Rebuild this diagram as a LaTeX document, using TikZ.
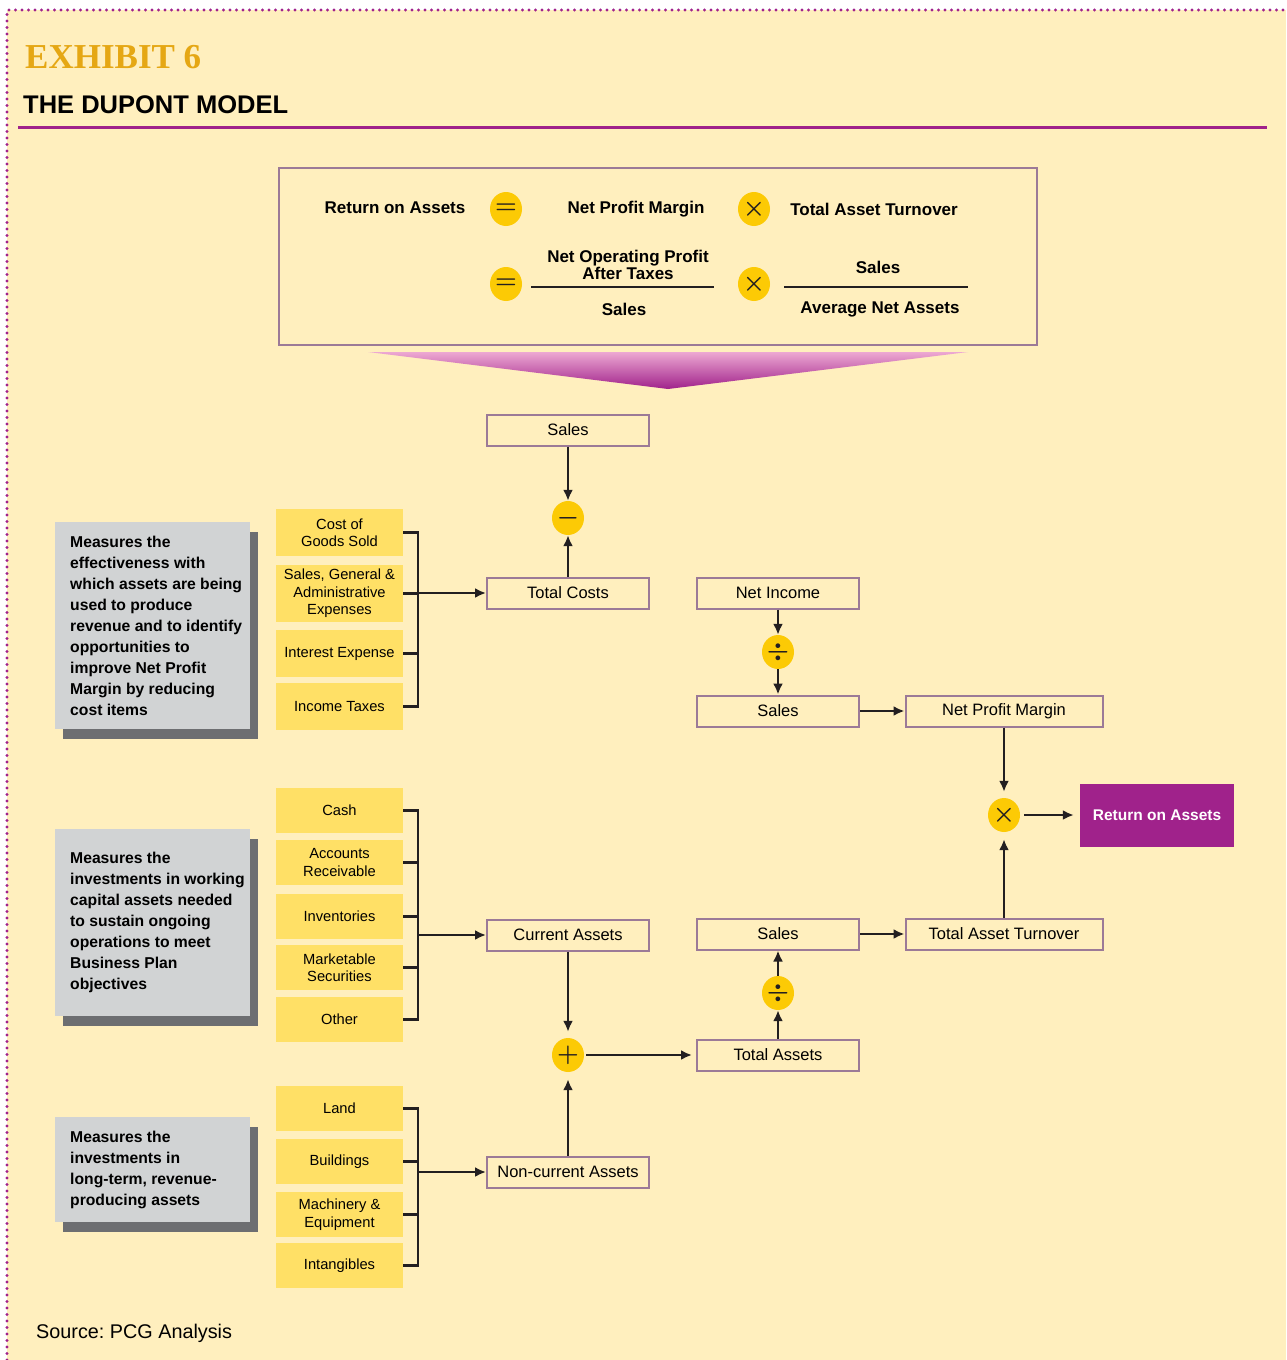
\documentclass[tikz,border=0pt]{standalone}
\usepackage{fontspec}
\setmainfont{Liberation Sans}
\newfontfamily\exhibitfont{Liberation Serif}
\usetikzlibrary{arrows.meta,calc,positioning,shapes.geometric,shadows}

\definecolor{cream}{HTML}{FFEFBE}
\definecolor{itemyellow}{HTML}{FFE066}
\definecolor{opyellow}{HTML}{FCCA05}
\definecolor{boxline}{HTML}{9C7A97}
\definecolor{dupurple}{HTML}{A0228B}
\definecolor{funneltop}{HTML}{EDA8D2}
\definecolor{notegrey}{HTML}{D1D3D4}
\definecolor{shadowgrey}{HTML}{6D6E71}
\definecolor{exgold}{HTML}{E5A714}
\definecolor{ink}{HTML}{231F20}

\tikzset{
  flowbox/.style={draw=boxline, line width=2pt, fill=cream, minimum width=162pt, minimum height=31pt, inner sep=0pt, font=\fontsize{16.5}{19}\selectfont},
  widebox/.style={flowbox, minimum width=197pt},
  roabox/.style={fill=dupurple, text=white, minimum width=154pt, minimum height=63pt, inner sep=0pt, font=\bfseries\fontsize{15.5}{18}\selectfont},
  item/.style={fill=itemyellow, minimum width=127pt, minimum height=45pt, inner sep=0pt, align=center, font=\fontsize{14.7}{17.5}\selectfont},
  op/.style={ellipse, fill=opyellow, minimum width=32pt, minimum height=34pt, inner sep=0pt, text=ink, font=\boldmath\fontsize{25}{25}\selectfont},
  link/.style={draw=ink, line width=2.3pt},
  arr/.style={link, -{Latex[length=11pt,width=10pt]}},
  notebox/.style={fill=notegrey, anchor=north west, minimum width=195pt, inner sep=0pt,
    drop shadow={shadow xshift=8pt, shadow yshift=-10pt, fill=shadowgrey, opacity=1}},
  notetext/.style={anchor=west, align=left, inner sep=0pt, font=\bfseries\fontsize{15.7}{21}\selectfont},
  formula/.style={inner sep=0pt, align=center, font=\bfseries\fontsize{17}{17}\selectfont},
}

\begin{document}
\frenchspacing
\begin{tikzpicture}[x=1pt,y=-1pt]
\useasboundingbox (0,0) rectangle (1286,1360);
\fill[white] (0,0) rectangle (1286,1360);
\fill[cream] (7,10) rectangle (1286,1360);
\draw[dupurple, line width=3.2pt, line cap=round, dash pattern=on 0pt off 6.5pt] (7,1360) -- (7,10) -- (1286,10);

% Title
\node[anchor=base west, inner sep=0pt, text=exgold, font=\exhibitfont\bfseries\fontsize{35}{35}\selectfont] (exhibit) at (25,68) {EXHIBIT 6};
\node[anchor=base west, inner sep=0pt, font=\bfseries\fontsize{25.5}{26}\selectfont] (title) at (23,113) {THE DUPONT MODEL};
\draw[dupurple, line width=3pt] (18,127) -- (1267,127);

% Formula
\node[draw=boxline, line width=2pt, fill=cream, anchor=north west, minimum width=758pt, minimum height=177pt] (formbox) at (278,167) {};
\node[formula] (f-roa) at (395,208) {Return on Assets};
\node[op] (f-eq1) at (506,209) {$=$};
\node[formula] (f-npm) at (636,209) {Net Profit Margin};
\node[op] (f-x1) at (754,209) {$\times$};
\node[formula] (f-tat) at (874,209) {Total Asset Turnover};
\node[op] (f-eq2) at (506,284) {$=$};
\node[formula] (f-nopat) at (628,265) {Net Operating Profit\\After Taxes};
\node[formula] (f-sales1) at (624,309) {Sales};
\node[op] (f-x2) at (754,284) {$\times$};
\node[formula] (f-sales2) at (878,267) {Sales};
\node[formula] (f-avg) at (880,309) {Average Net Assets};
\draw[link] (531,287) -- (714,287);
\draw[link] (784,287) -- (968,287);
\shade[top color=funneltop, bottom color=dupurple] (368,352) -- (968,352) -- (668,389) -- cycle;

% Flow
\node[flowbox] (sales1) at (568,430) {Sales};
\node[op] (minus) at (568,518) {$-$};
\node[flowbox] (tcost) at (568,593) {Total Costs};
\node[flowbox] (nincome) at (778,593) {Net Income};
\node[op] (div1) at (778,652) {$\div$};
\node[flowbox] (sales2) at (778,711) {Sales};
\node[widebox] (npm) at (1004,711) {Net Profit Margin};
\node[op] (times) at (1004,815) {$\times$};
\node[roabox] (roa) at (1157,815) {Return on Assets};
\node[flowbox] (cassets) at (568,935) {Current Assets};
\node[flowbox] (sales3) at (778,934) {Sales};
\node[widebox] (tat) at (1004,934) {Total Asset Turnover};
\node[op] (div2) at (778,993) {$\div$};
\node[op] (plus) at (568,1055) {$+$};
\node[flowbox] (tassets) at (778,1055) {Total Assets};
\node[flowbox] (ncassets) at (568,1172) {Non-current Assets};

\draw[arr] (sales1) -- (minus);
\draw[arr] (tcost) -- (minus);
\draw[arr] (nincome) -- (div1);
\draw[arr] (div1) -- (sales2);
\draw[arr] (sales2) -- (npm);
\draw[arr, shorten >=6pt] (npm) -- (times);
\draw[arr, shorten >=7pt] (tat) -- (times);
\draw[arr, shorten <=4pt, shorten >=6pt] (times) -- (roa);
\draw[arr, shorten >=6pt] (cassets) -- (plus);
\draw[arr, shorten >=7pt] (ncassets) -- (plus);
\draw[arr, shorten <=2pt, shorten >=4pt] (plus) -- (tassets);
\draw[arr] (tassets) -- (div2);
\draw[arr] (div2) -- (sales3);
\draw[arr] (sales3) -- (tat);

% Cost items
\node[item, minimum height=47pt] (cogs) at (339.5,532.5) {Cost of\\Goods Sold};
\node[item, minimum height=57pt] (sga) at (339.5,593.5) {Sales, General \&\\Administrative\\Expenses};
\node[item, minimum height=47pt] (intexp) at (339.5,653.5) {Interest Expense};
\node[item, minimum height=47pt] (tax) at (339.5,706.5) {Income Taxes};
\coordinate (j1) at (418,593);
\draw[link] (cogs.east) -| (tax.east -| j1) -- (tax.east);
\draw[link] (sga.east) -- (sga.east -| j1);
\draw[link] (intexp.east) -- (intexp.east -| j1);
\draw[arr] (j1) -- (tcost);

% Current assets
\node[item] (cash) at (339.5,810.5) {Cash};
\node[item] (recv) at (339.5,862.5) {Accounts\\Receivable};
\node[item] (inv) at (339.5,916.5) {Inventories};
\node[item] (mkt) at (339.5,967.5) {Marketable\\Securities};
\node[item] (other) at (339.5,1019.5) {Other};
\coordinate (j2) at (418,935);
\draw[link] (cash.east) -| (other.east -| j2) -- (other.east);
\draw[link] (recv.east) -- (recv.east -| j2);
\draw[link] (inv.east) -- (inv.east -| j2);
\draw[link] (mkt.east) -- (mkt.east -| j2);
\draw[arr] (j2) -- (cassets);

% Non-current assets
\node[item] (land) at (339.5,1108.5) {Land};
\node[item] (bldg) at (339.5,1161.5) {Buildings};
\node[item] (mach) at (339.5,1214.5) {Machinery \&\\Equipment};
\node[item] (intang) at (339.5,1265.5) {Intangibles};
\coordinate (j3) at (418,1172);
\draw[link] (land.east) -| (intang.east -| j3) -- (intang.east);
\draw[link] (bldg.east) -- (bldg.east -| j3);
\draw[link] (mach.east) -- (mach.east -| j3);
\draw[arr] (j3) -- (ncassets);

% Notes
\node[notebox, minimum height=207pt] (note1) at (55,522) {};
\node[notetext] (note1txt) at ([xshift=15pt]note1.west) {Measures the\\effectiveness with\\which assets are being\\used to produce\\revenue and to identify\\opportunities to\\improve Net Profit\\Margin by reducing\\cost items};
\node[notebox, minimum height=187pt] (note2) at (55,829) {};
\node[notetext] (note2txt) at ([xshift=15pt]note2.west) {Measures the\\investments in working\\capital assets needed\\to sustain ongoing\\operations to meet\\Business Plan\\objectives};
\node[notebox, minimum height=105pt] (note3) at (55,1117) {};
\node[notetext] (note3txt) at ([xshift=15pt]note3.west) {Measures the\\investments in\\long-term, revenue-\\producing assets};

\node[anchor=base west, inner sep=0pt, font=\fontsize{19.8}{20}\selectfont] (source) at (36,1338) {Source: PCG Analysis};
\end{tikzpicture}
\end{document}
